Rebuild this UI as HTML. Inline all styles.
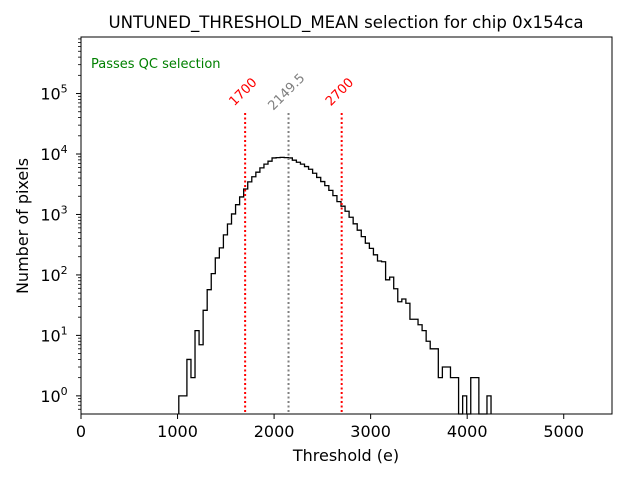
<!DOCTYPE html>
<html><head><meta charset="utf-8"><style>
body{margin:0;background:#fff}
svg{display:block;font-family:"DejaVu Sans","Liberation Sans",sans-serif}
</style></head><body>
<svg id="chart" width="640" height="480" viewBox="0 0 640 480">
<text x="346" y="28" font-size="16.6" text-anchor="middle">UNTUNED_THRESHOLD_MEAN selection for chip 0x154ca</text>
<g id="plot"></g>
<text x="346" y="461" font-size="16" text-anchor="middle">Threshold (e)</text>
<text transform="translate(28,226) rotate(-90)" font-size="16" text-anchor="middle">Number of pixels</text>
<text x="91" y="68" font-size="13" fill="#008000">Passes QC selection</text>
</svg>
<script>
const binStart = 1013;
const binWidth = 42;
const counts = [1,1,4,2,12,7,26,57,105,191,280,460,695,1020,1450,1950,2640,3460,4200,5000,5900,6800,7600,8600,8700,8800,8700,8600,7900,7300,6800,6200,5600,4800,4100,3500,3000,2500,2050,1630,1370,1130,900,700,550,430,335,275,215,170,165,83,92,59,36,40,34,18.5,18.5,15,12,8,6,6,2,3,3,2,2,0,1,0,2,2,0,0,1];
const xTicks = [0,1000,2000,3000,4000,5000];
const yTickExps = [0,1,2,3,4,5];
const cutValues = [1700,2149.5,2700];
const cutLabels = ["1700","2149.5","2700"];
const cutColors = ["red","gray","red"];

const L=81,R=612,T=37,B=414;
const xMin=0,xMax=5500,yLogMin=-0.3,yLogMax=5.935;
const NS="http://www.w3.org/2000/svg";
function X(v){return L+(v-xMin)/(xMax-xMin)*(R-L);}
function Y(v){if(v<=0)return B;const l=Math.log10(v);return B-(l-yLogMin)/(yLogMax-yLogMin)*(B-T);}
const g=document.getElementById('plot');
function mk(tag,attrs){const e=document.createElementNS(NS,tag);for(const k in attrs)e.setAttribute(k,attrs[k]);g.appendChild(e);return e;}

let d=`M${X(binStart)},${B}`;
counts.forEach((c,i)=>{const x0=X(binStart+i*binWidth),x1=X(binStart+(i+1)*binWidth);const y=Y(c);d+=`L${x0},${y}L${x1},${y}`;});
d+=`L${X(binStart+counts.length*binWidth)},${B}`;
const h=mk('path',{d:d,fill:'none',stroke:'#000','stroke-width':1.3});



cutValues.forEach((v,i)=>{
  const ln=mk('line',{x1:X(v),x2:X(v),y1:113,y2:B,stroke:cutColors[i],'stroke-width':2,'stroke-dasharray':'2,2.5'});
  
  
  const cx=X(v)-2,cy=92;
  const t=mk('text',{x:cx,y:cy+4,'font-size':13,fill:cutColors[i],'text-anchor':'middle',transform:`rotate(-45 ${cx} ${cy})`});
  t.textContent=cutLabels[i];
  
  
});

const fr=mk('rect',{x:L,y:T,width:R-L,height:B-T,fill:'none',stroke:'#000','stroke-width':1});



xTicks.forEach(v=>{
  const tk=mk('line',{x1:X(v),x2:X(v),y1:B,y2:B+5,stroke:'#000'});
  
  
  const t=mk('text',{x:X(v),y:B+23,'font-size':16,'text-anchor':'middle'});
  t.textContent=v;
  
  
});
yTickExps.forEach(e=>{
  const y=Y(Math.pow(10,e));
  const tk=mk('line',{x1:L-5,x2:L,y1:y,y2:y,stroke:'#000'});
  
  
  const t=mk('text',{x:L-27,y:y+6,'font-size':16,'text-anchor':'middle'});
  t.innerHTML=`10<tspan dy="-7" font-size="11">${e}</tspan>`;
  
  
});
for(let e=-1;e<=5;e++){for(let m=2;m<=9;m++){const v=m*Math.pow(10,e);const y=Y(v);if(y<T||y>B)continue;
  const tk=mk('line',{x1:L-3,x2:L,y1:y,y2:y,stroke:'#000','stroke-width':0.8});
  
  }}
</script>
</body></html>
